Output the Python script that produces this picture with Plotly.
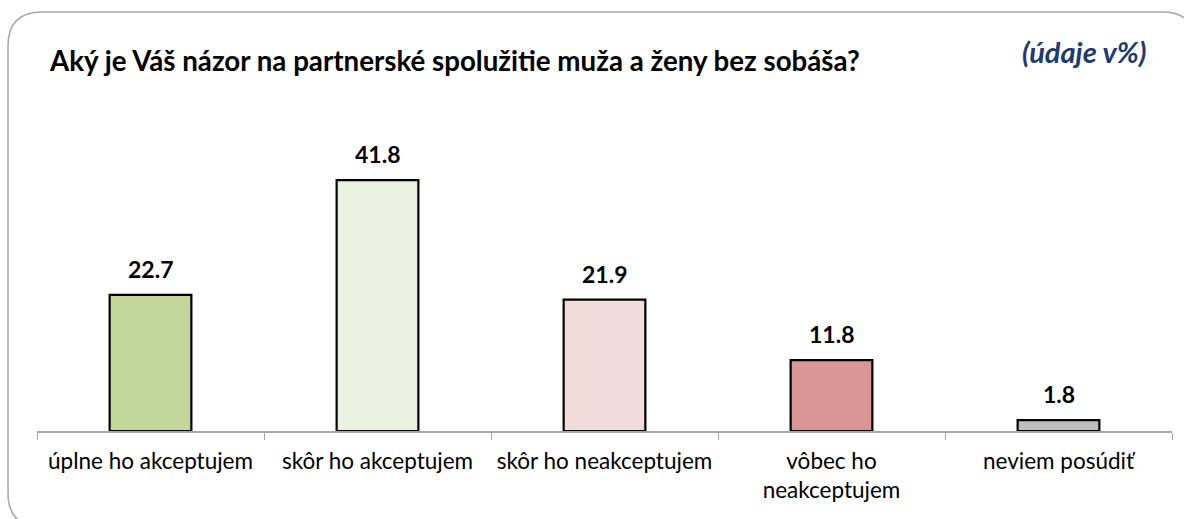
import plotly.graph_objects as go

categories = ["úplne ho akceptujem", "skôr ho akceptujem", "skôr ho neakceptujem",
              "vôbec ho<br>neakceptujem", "neviem posúdiť"]
values = [22.7, 41.8, 21.9, 11.8, 1.8]
colors = ["#C4D79B", "#EBF1DE", "#F2DCDB", "#DA9694", "#BFBFBF"]

title_text = "Aký je Váš názor na partnerské spolužitie muža a ženy bez sobáša?"
unit_text = "(údaje v%)"

FONT = "Lato, Open Sans, sans-serif"
W, H = 1184, 519
ml, mr, mt, mb = 37, 12, 131, 88
pw, ph = W - ml - mr, H - mt - mb

def px(x):
    return (x - ml) / pw

def py(y):
    return (H - mb - y) / ph

fig = go.Figure()
fig.add_trace(go.Bar(
    x=categories, y=values,
    marker=dict(color=colors, line=dict(color="black", width=2.2)),
    width=0.36,
    hoverinfo="x+y",
))

for c, v in zip(categories, values):
    fig.add_annotation(x=c, y=v, text=f"<b>{v:.1f}</b>", showarrow=False,
                       xanchor="center", yanchor="bottom", yshift=10,
                       font=dict(family=FONT, size=23, color="black"))

# rounded border
x0, y0, x1, y1, r = 8, 12, 1196, 527, 34
path = (f"M {px(x0+r)},{py(y0)} L {px(x1-r)},{py(y0)} "
        f"Q {px(x1)},{py(y0)} {px(x1)},{py(y0+r)} "
        f"L {px(x1)},{py(y1-r)} Q {px(x1)},{py(y1)} {px(x1-r)},{py(y1)} "
        f"L {px(x0+r)},{py(y1)} Q {px(x0)},{py(y1)} {px(x0)},{py(y1-r)} "
        f"L {px(x0)},{py(y0+r)} Q {px(x0)},{py(y0)} {px(x0+r)},{py(y0)} Z")
fig.add_shape(type="path", path=path, xref="paper", yref="paper",
              line=dict(color="#A6A6A6", width=1.5), layer="below")

fig.add_annotation(text=f"<b>{title_text}</b>", xref="paper", yref="paper",
                   x=px(47), y=py(60), xanchor="left", yanchor="middle", showarrow=False,
                   font=dict(family=FONT, size=27.7, color="black"))
fig.add_annotation(text=f"<b><i>{unit_text}</i></b>", xref="paper", yref="paper",
                   x=px(1149), y=py(52), xanchor="right", yanchor="middle", showarrow=False,
                   font=dict(family=FONT, size=29, color="#1F3A73"))

fig.update_layout(
    width=W, height=H,
    margin=dict(l=ml, r=mr, t=mt, b=mb),
    paper_bgcolor="white", plot_bgcolor="white",
    showlegend=False,
    xaxis=dict(showline=True, linecolor="#A6A6A6", linewidth=1.5,
               ticks="outside", tickson="boundaries", ticklen=7, tickcolor="#A6A6A6",
               tickfont=dict(family=FONT, size=22.5, color="black"),
               ticklabelstandoff=9,
               showgrid=False),
    yaxis=dict(range=[0, 50], visible=False, showgrid=False),
)

fig.write_html("out.html", config={"displayModeBar": False},
               post_script="document.body.style.margin='0';")
